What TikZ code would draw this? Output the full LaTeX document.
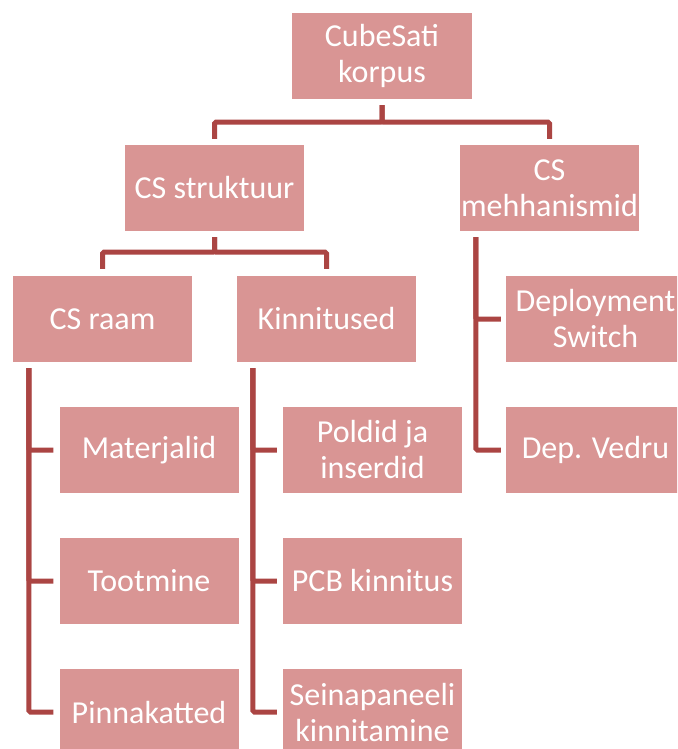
\documentclass[tikz,border=0pt]{standalone}
\usepackage{fontspec}
\setmainfont{Carlito}
\definecolor{boxfill}{HTML}{D99594}
\definecolor{linecol}{HTML}{AB4543}
\tikzset{
  box/.style={rectangle, fill=boxfill, text=white, minimum width=179pt, minimum height=86pt,
    inner sep=0pt, align=center, font=\fontsize{32}{36}\selectfont},
  conn/.style={draw=linecol, line width=5pt, rounded corners=1.5pt}
}
\begin{document}
\begin{tikzpicture}[x=1pt,y=1pt]
\useasboundingbox (0,0) rectangle (677,-749);
\clip (0,0) rectangle (677,-749);
\fill[white] (0,0) rectangle (677,-749);
\node[box, minimum width=180pt] (top) at (382,-56) {CubeSati\\korpus};
\node[box] (struk) at (214.5,-188) {CS struktuur};
\node[box] (mech) at (549.5,-188) {CS\\mehhanismid};
\node[box] (raam) at (102.5,-319) {CS raam};
\node[box] (kinn) at (326.5,-319) {Kinnitused};
\node[box] (depsw) at (595.5,-319) {Deployment\\Switch};
\node[box] (vedru) at (595.5,-450) {Dep. Vedru};
\node[box] (mat) at (149,-450) {Materjalid};
\node[box] (toot) at (149,-581) {Tootmine};
\node[box] (pinn) at (149,-712) {Pinnakatted};
\node[box] (poldid) at (372.5,-450) {Poldid ja\\inserdid};
\node[box] (pcb) at (372.5,-581) {PCB kinnitus};
\node[box] (sein) at (372.5,-712) {Seinapaneeli\\kinnitamine};
% top level
\draw[conn] ([yshift=-6pt]top.south) -- ++(0,-17) -| ([yshift=6pt]struk.north);
\draw[conn] ([yshift=-6pt]top.south) -- ++(0,-17) -| ([yshift=6pt]mech.north);
% struktuur
\draw[conn] ([yshift=-6pt]struk.south) -- ++(0,-15) -| ([yshift=7pt]raam.north);
\draw[conn] ([yshift=-6pt]struk.south) -- ++(0,-15) -| ([yshift=7pt]kinn.north);
% mehhanismid
\draw[conn] ([xshift=16pt,yshift=-6pt]mech.south west) |- ([xshift=-5pt]depsw.west);
\draw[conn] ([xshift=16pt,yshift=-6pt]mech.south west) |- ([xshift=-5pt]vedru.west);
% raam
\draw[conn] ([xshift=16pt,yshift=-6pt]raam.south west) |- ([xshift=-6pt]mat.west);
\draw[conn] ([xshift=16pt,yshift=-6pt]raam.south west) |- ([xshift=-6pt]toot.west);
\draw[conn] ([xshift=16pt,yshift=-6pt]raam.south west) |- ([xshift=-6pt]pinn.west);
% kinnitused
\draw[conn] ([xshift=16pt,yshift=-6pt]kinn.south west) |- ([xshift=-6pt]poldid.west);
\draw[conn] ([xshift=16pt,yshift=-6pt]kinn.south west) |- ([xshift=-6pt]pcb.west);
\draw[conn] ([xshift=16pt,yshift=-6pt]kinn.south west) |- ([xshift=-6pt]sein.west);
\end{tikzpicture}
\end{document}
